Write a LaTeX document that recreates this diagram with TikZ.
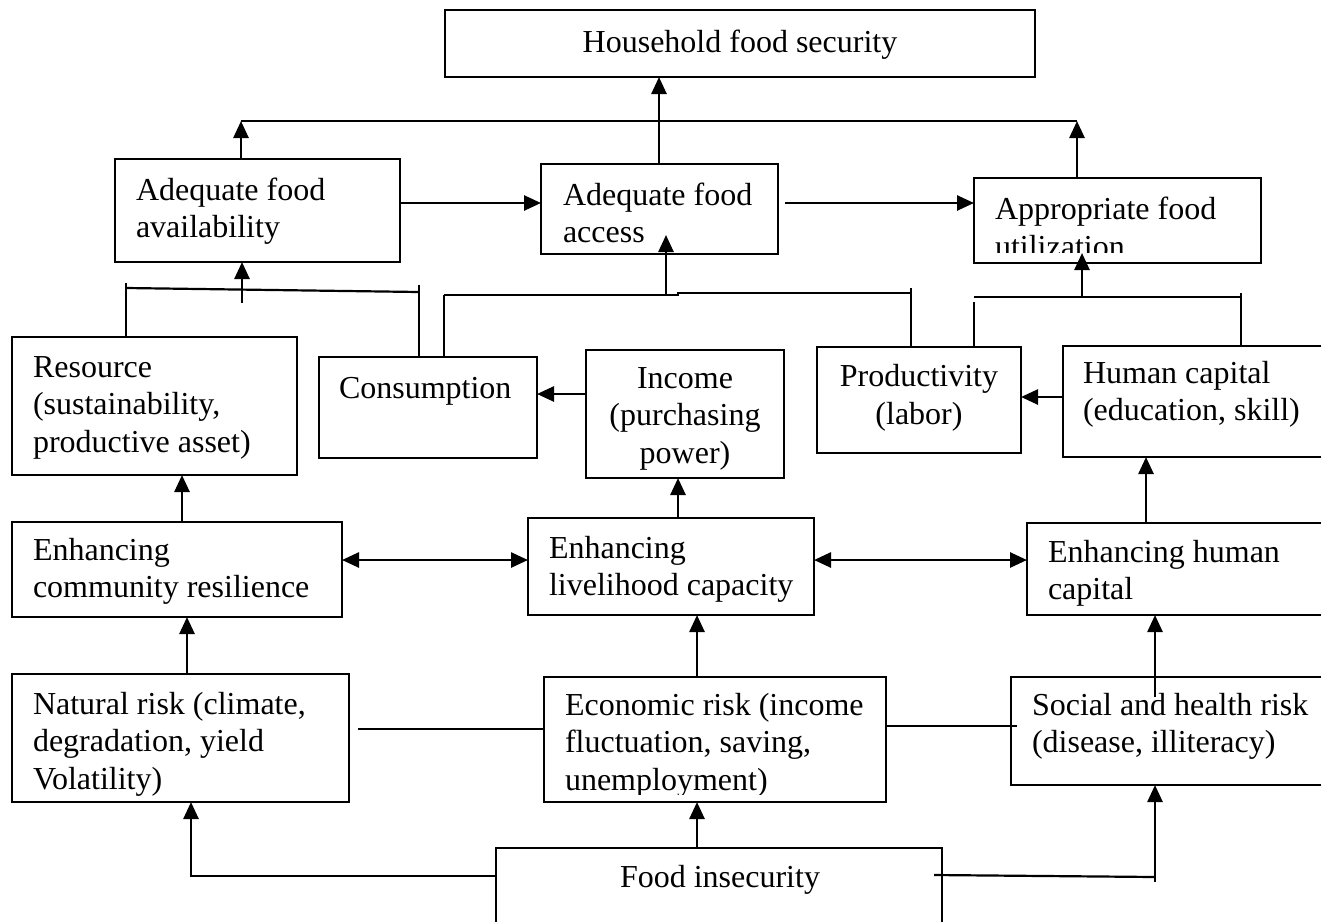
\documentclass[tikz,border=0pt]{standalone}
\usepackage{fontspec}
\setmainfont{Liberation Serif}
\usetikzlibrary{arrows.meta}
\begin{document}
\begin{tikzpicture}[x=1pt,y=-1pt,
  box/.style={draw, line width=2.2pt, anchor=north west, inner sep=0pt, outer sep=0pt},
  txt/.style={inner sep=0pt, outer sep=0pt, font=\fontsize{32}{37.5}\selectfont, anchor=base west, align=left},
  ctxt/.style={inner sep=0pt, outer sep=0pt, font=\fontsize{32}{37.5}\selectfont, anchor=base, align=center},
  con/.style={line width=2.2pt},
  arr/.style={line width=2.6pt, -{Triangle[length=17pt,width=15pt]}},
  darr/.style={line width=2.6pt, {Triangle[length=17pt,width=15pt]}-{Triangle[length=17pt,width=15pt]}}
]
\useasboundingbox (0,0) rectangle (1321,921);
\clip (0,0) rectangle (1321,921);
\fill[white] (0,0) rectangle (1321,921);

% boxes
\node[box, minimum width=590pt, minimum height=67pt] (hfs) at (445,10) {};
\node[box, minimum width=285pt, minimum height=103pt] (avail) at (115,159) {};
\node[box, minimum width=237pt, minimum height=90pt] (access) at (541,164) {};
\node[box, minimum width=287pt, minimum height=85pt] (util) at (974,178) {};
\node[box, minimum width=285pt, minimum height=138pt] (res) at (12,337) {};
\node[box, minimum width=218pt, minimum height=101pt] (cons) at (319,357) {};
\node[box, minimum width=198pt, minimum height=128pt] (inc) at (586,350) {};
\node[box, minimum width=204pt, minimum height=106pt] (prod) at (817,347) {};
\node[box, minimum width=280pt, minimum height=111pt] (hum) at (1063,346) {};
\node[box, minimum width=330pt, minimum height=95pt] (ecr) at (12,522) {};
\node[box, minimum width=286pt, minimum height=97pt] (elc) at (528,518) {};
\node[box, minimum width=310pt, minimum height=92pt] (ehc) at (1027,523) {};
\node[box, minimum width=337pt, minimum height=128pt] (nat) at (12,674) {};
\node[box, minimum width=342pt, minimum height=125pt] (eco) at (544,677) {};
\node[box, minimum width=330pt, minimum height=108pt] (soc) at (1011,677) {};
\node[box, minimum width=446pt, minimum height=100pt] (fi) at (496,848) {};

% texts (anchor = baseline of the last line)
\node[ctxt] (hfs-t) at (740,52) {Household food security};
\node[txt] (avail-t) at (136,237.5) {Adequate food\\availability};
\node[txt] (access-t) at (563,242.5) {Adequate food\\access};
\node[txt] (util-t) at (995,257) {Appropriate food\\utilization};
\node[txt] (res-t) at (33,452) {Resource\\(sustainability,\\productive asset)};
\node[txt] (cons-t) at (339,398) {Consumption};
\node[ctxt] (inc-t) at (685,463) {Income\\(purchasing\\power)};
\node[ctxt] (prod-t) at (919,424) {Productivity\\(labor)};
\node[txt] (hum-t) at (1083,420.5) {Human capital\\(education, skill)};
\node[txt] (ecr-t) at (33,597.5) {Enhancing\\community resilience};
\node[txt] (elc-t) at (549,595.5) {Enhancing\\livelihood capacity};
\node[txt] (ehc-t) at (1048,599.5) {Enhancing human\\capital};
\node[txt] (nat-t) at (33,789) {Natural risk (climate,\\degradation, yield\\Volatility)};
\node[txt] (eco-t) at (565,790) {Economic risk (income\\fluctuation, saving,\\unemployment)};
\node[txt] (soc-t) at (1032,752.5) {Social and health risk\\(disease, illiteracy)};
\node[ctxt] (fi-t) at (720,887) {Food insecurity};

% cut-off text bottoms
\fill[white] (985,253) rectangle (1255,261);
\fill[white] (556,795) rectangle (880,800);

% named coordinates
\coordinate (tl) at (241,121);
\coordinate (tr) at (1077,121);
\coordinate (tm) at (659,121);
\coordinate (a2) at (785,203);
\coordinate (lb1) at (126,288);
\coordinate (lb2) at (419,292);
\coordinate (lbt1) at (126,283);
\coordinate (lbt2) at (419,285);
\coordinate (ls) at (242,303);
\coordinate (mb1) at (444,295);
\coordinate (mb2) at (678,295);
\coordinate (mb3) at (678,293);
\coordinate (mb4) at (911,293);
\coordinate (mbt) at (911,288);
\coordinate (ms) at (666,296);
\coordinate (mtip) at (666,235);
\coordinate (rb1) at (974,297);
\coordinate (rb2) at (1241,297);
\coordinate (rbl) at (974,302);
\coordinate (rbr) at (1241,293);
\coordinate (rs) at (1082,297);
\coordinate (rtip) at (1082,253);
\coordinate (xA) at (182,0);
\coordinate (xB) at (678,0);
\coordinate (xC) at (1146,0);
\coordinate (xD) at (187,0);
\coordinate (xE) at (697,0);
\coordinate (xF) at (1155,0);
\coordinate (xG) at (191,0);
\coordinate (sst) at (1155,697);
\coordinate (nl) at (358,729);
\coordinate (sl) at (1017,726);
\coordinate (fr) at (934,875);
\coordinate (fr2) at (1155,877);
\coordinate (fv) at (1155,882);

% top level
\draw[con] (tl) -- (tr);
\draw[arr] (tl |- avail.north) -- (tl);
\draw[arr] (tr |- util.north) -- (tr);
\draw[arr] (tm |- access.north) -- (tm |- hfs.south);
\draw[arr] (avail.east |- 0,203) -- (access.west |- 0,203);
\draw[arr] (a2) -- (util.west |- a2);

% left bracket
\draw[con] (lb1) -- (lb2);
\draw[con] (lbt1) -- (lbt1 |- res.north);
\draw[con] (lbt2) -- (lbt2 |- cons.north);
\draw[arr] (ls) -- (ls |- avail.south);

% middle bracket
\draw[con] (mb1) -- (mb2) -- (mb3) -- (mb4);
\draw[con] (mb1) -- (mb1 |- cons.north);
\draw[con] (mbt) -- (mbt |- prod.north);
\draw[arr] (ms) -- (mtip);

% right bracket
\draw[con] (rb1) -- (rb2);
\draw[con] (rbl) -- (rbl |- prod.north);
\draw[con] (rbr) -- (rbr |- hum.north);
\draw[arr] (rs) -- (rtip);

% level 3
\draw[arr] (inc.west |- 0,394) -- (cons.east |- 0,394);
\draw[arr] (hum.west |- 0,397) -- (prod.east |- 0,397);
\draw[arr] (xA |- ecr.north) -- (xA |- res.south);
\draw[arr] (xB |- elc.north) -- (xB |- inc.south);
\draw[arr] (xC |- ehc.north) -- (xC |- hum.south);

% level 4
\draw[darr] (ecr.east |- 0,560) -- (elc.west |- 0,560);
\draw[darr] (elc.east |- 0,560) -- (ehc.west |- 0,560);

% level 5
\draw[arr] (xD |- nat.north) -- (xD |- ecr.south);
\draw[arr] (xE |- eco.north) -- (xE |- elc.south);
\draw[arr] (sst) -- (xF |- ehc.south);
\draw[con] (nl) -- (eco.west |- nl);
\draw[con] (eco.east |- sl) -- (sl);

% level 6
\draw[arr] (xE |- fi.north) -- (xE |- eco.south);
\draw[arr] (fi.west |- 0,876) -- (xG |- 0,876) -- (xG |- nat.south);
\draw[con] (fr) -- (fr2);
\draw[arr] (fv) -- (xF |- soc.south);
\end{tikzpicture}
\end{document}
